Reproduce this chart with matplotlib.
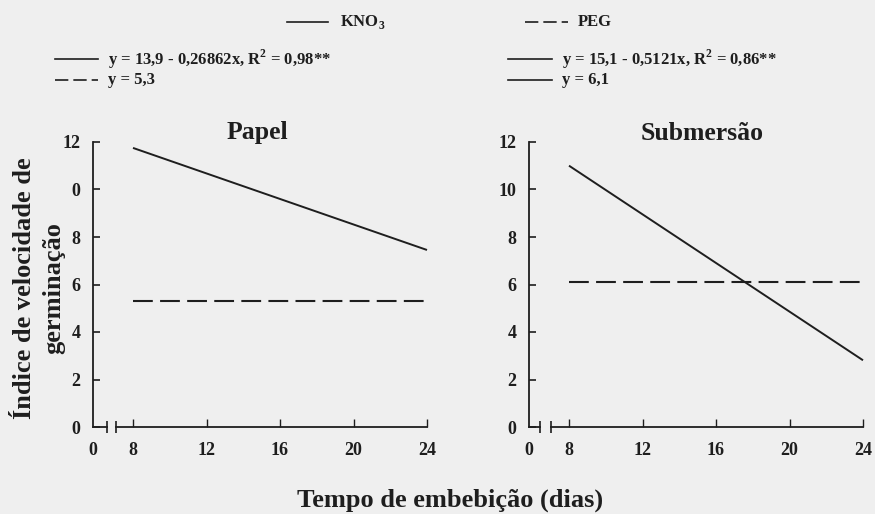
import numpy as np
import matplotlib
matplotlib.use('Agg')
import matplotlib.pyplot as plt
from matplotlib.lines import Line2D

# soaking time (days) and fitted regressions for each condition
days = np.array([8, 24])
papel_kno3 = (13.9, -0.26862)      # intercept, slope
papel_peg = 5.3
subm_kno3 = (15.1, -0.5121)
subm_peg = 6.1

yticks = [0, 2, 4, 6, 8, 10, 12]
yticklabels_papel = ['0', '2', '4', '6', '8', '0', '12']
yticklabels_subm = ['0', '2', '4', '6', '8', '10', '12']
xticks = [8, 12, 16, 20, 24]

bg = '#efefef'
ink = '#1e1e1e'
W, H = 875, 514
plt.rcParams['font.family'] = ['Liberation Serif', 'DejaVu Serif']
plt.rcParams['font.weight'] = 'bold'
plt.rcParams['mathtext.fontset'] = 'custom'
plt.rcParams['mathtext.rm'] = 'Liberation Serif:bold'
plt.rcParams['mathtext.bf'] = 'Liberation Serif:bold'
plt.rcParams['text.color'] = ink
plt.rcParams['xtick.color'] = ink
plt.rcParams['ytick.color'] = ink

fig = plt.figure(figsize=(W / 100, H / 100), dpi=100, facecolor=bg)


def px(x0, x1, y0=142, y1=427):
    return [x0 / W, (H - y1) / H, (x1 - x0) / W, (y1 - y0) / H]


def panel(x_axis, x_small_end, x_main, x8, x_end, yticklabels, kno3, peg):
    unit = (x_end - x8) / 16.0  # pixels per day

    # short segment holding the origin, before the axis break
    small = fig.add_axes(px(x_axis, x_small_end))
    small.set_facecolor('none')
    small.set_xlim(0, (x_small_end - x_axis) / unit)
    small.set_ylim(0, 12)
    small.spines[['top', 'right']].set_visible(False)
    small.set_xticks([0])
    small.set_xticks([(x_small_end - x_axis) / unit], minor=True)
    small.tick_params(axis='x', which='minor', direction='inout', length=8, width=1.2)
    small.tick_params(axis='x', which='major', direction='in', length=0, pad=11,
                      labelsize=13)
    small.set_yticks(yticks)
    small.set_yticklabels(yticklabels)
    small.tick_params(axis='y', direction='in', length=5, width=1.2, pad=9, labelsize=13)
    for s in small.spines.values():
        s.set_linewidth(1.3)
        s.set_color(ink)

    main = fig.add_axes(px(x_main, x_end))
    main.set_facecolor('none')
    main.set_xlim(8 - (x8 - x_main) / unit, 24)
    main.set_ylim(0, 12)
    main.spines[['top', 'right', 'left']].set_visible(False)
    main.spines['bottom'].set_linewidth(1.3)
    main.spines['bottom'].set_color(ink)
    main.set_yticks([])
    main.set_xticks(xticks)
    main.set_xticks([8 - (x8 - x_main) / unit], minor=True)
    main.tick_params(axis='x', which='major', direction='in', length=6, width=1.0,
                     pad=11, labelsize=13)
    main.tick_params(axis='x', which='minor', direction='inout', length=8, width=1.2)

    main.plot(days, kno3[0] + kno3[1] * days, color=ink, lw=1.4,
              solid_capstyle='butt', clip_on=False)
    main.plot(days, [peg, peg], color=ink, lw=1.5, dashes=(9.5, 3.5),
              clip_on=False)
    return small, main


panel(93, 107, 116, 133, 427, yticklabels_papel, papel_kno3, papel_peg)
panel(529, 540, 551, 569, 863, yticklabels_subm, subm_kno3, subm_peg)

# panel titles
fig.text(257 / W, 1 - 133 / H, 'Papel', ha='center', va='center', fontsize=18.5)
fig.text(702 / W, 1 - 133 / H, 'Submersão', ha='center', va='center', fontsize=18.5)

# axis labels
fig.text(39 / W, 1 - 288 / H, 'Índice de velocidade de\ngerminação', rotation=90,
         ha='center', va='center', fontsize=19, linespacing=1.35)
fig.text(450 / W, 1 - 500 / H, 'Tempo de embebição (dias)', ha='center',
         va='center', fontsize=19)


# legend drawn as figure text with line samples
def key(x0, x1, y, text, tx, dashed=False, size=12):
    yf = 1 - y / H
    ln = Line2D([x0 / W, x1 / W], [yf, yf], transform=fig.transFigure,
                color=ink, lw=1.2)
    if dashed:
        ln.set_dashes((8, 3))
    fig.add_artist(ln)
    fig.text(tx / W, yf, text, ha='left', va='center', fontsize=size)


key(287, 328, 22, r'KNO$_\mathbf{3}$', 340)
key(525, 568, 22, 'PEG', 578, dashed=True)
key(55, 98, 59, r'y = 13,9 - 0,26862x, R$^\mathbf{2}$ = 0,98**', 108)
key(55, 98, 80, 'y = 5,3', 108, dashed=True)
key(508, 552, 59, r'y = 15,1 - 0,5121x, R$^\mathbf{2}$ = 0,86**', 562)
key(508, 552, 80, 'y = 6,1', 562)

fig.savefig('out.png', dpi=100, facecolor=bg)
